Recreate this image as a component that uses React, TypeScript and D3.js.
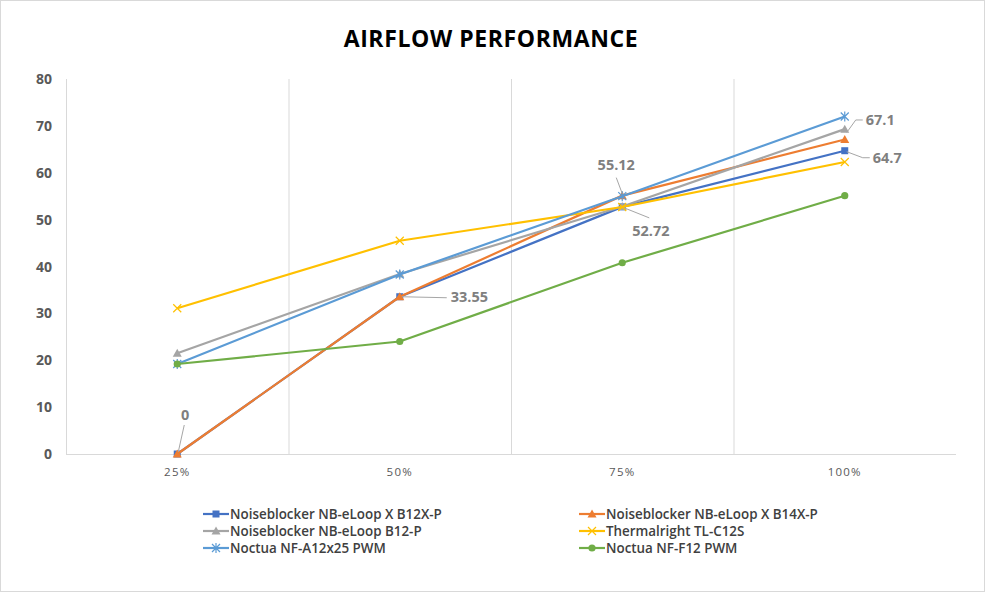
import React from "react";
import * as d3 from "d3";

const categories = ["25%", "50%", "75%", "100%"];
const seriesNames = [
  "Noiseblocker NB-eLoop X B12X-P",
  "Noiseblocker NB-eLoop X B14X-P",
  "Noiseblocker NB-eLoop B12-P",
  "Thermalright TL-C12S",
  "Noctua NF-A12x25 PWM",
  "Noctua NF-F12 PWM",
];
const b12xp = [0, 33.55, 52.72, 64.7];
const b14xp = [0, 33.55, 55.12, 67.1];
const b12p = [21.5, 38.4, 52.8, 69.3];
const tlc12s = [31.1, 45.5, 52.7, 62.3];
const a12x25 = [19.2, 38.3, 55.0, 72.0];
const f12 = [19.2, 24.0, 40.8, 55.1];
const seriesValues = [b12xp, b14xp, b12p, tlc12s, a12x25, f12];
const colors = ["#4472C4", "#ED7D31", "#A5A5A5", "#FFC000", "#5B9BD5", "#70AD47"];
const markers = ["square", "triangle", "triangle", "x", "star", "circle"];
const yTicks = [0, 10, 20, 30, 40, 50, 60, 70, 80];

// data labels: [series index, category index, text]
const dataLabels: [number, number, string][] = [
  [0, 0, "0"],
  [0, 1, "33.55"],
  [1, 2, "55.12"],
  [0, 2, "52.72"],
  [1, 3, "67.1"],
  [0, 3, "64.7"],
];

const W = 985;
const H = 592;
const left = 66;
const right = 956;
const top = 79;
const bottom = 454;

function Marker({ type, color, x, y }: { type: string; color: string; x: number; y: number }) {
  if (type === "square") return <rect x={x - 3.5} y={y - 3.5} width={7} height={7} fill={color} />;
  if (type === "triangle")
    return <path d={`M${x},${y - 4.5}L${x + 4.5},${y + 3.5}L${x - 4.5},${y + 3.5}Z`} fill={color} />;
  if (type === "circle") return <circle cx={x} cy={y} r={3.6} fill={color} />;
  if (type === "x")
    return (
      <path d={`M${x - 4},${y - 4}L${x + 4},${y + 4}M${x - 4},${y + 4}L${x + 4},${y - 4}`} stroke={color} strokeWidth={1.2} fill="none" />
    );
  return (
    <path
      d={`M${x - 4},${y - 4}L${x + 4},${y + 4}M${x - 4},${y + 4}L${x + 4},${y - 4}M${x},${y - 5}L${x},${y + 5}`}
      stroke={color}
      strokeWidth={1.2}
      fill="none"
    />
  );
}

export default function App() {
  const x = d3.scaleBand<string>().domain(categories).range([left, right]);
  const y = d3.scaleLinear().domain([0, 80]).range([bottom, top]);
  const cx = (c: string) => (x(c) as number) + x.bandwidth() / 2;
  const line = d3
    .line<number>()
    .x((_, i) => cx(categories[i]))
    .y((d) => y(d));

  const lp = (si: number, ci: number) => [cx(categories[ci]), y(seriesValues[si][ci])];
  const labelPos: Record<string, { tx: number; ty: number; anchor: string; leader: [number, number][] }> = {};
  {
    const [px, py] = lp(0, 0);
    labelPos["0"] = { tx: px + 8, ty: py - 34, anchor: "middle", leader: [[px + 1, py - 2], [px + 7, py - 29]] };
  }
  {
    const [px, py] = lp(0, 1);
    labelPos["33.55"] = { tx: px + 51, ty: py + 5.5, anchor: "start", leader: [[px + 2, py], [px + 47, py + 1]] };
  }
  {
    const [px, py] = lp(1, 2);
    labelPos["55.12"] = { tx: px - 6, ty: py - 26, anchor: "middle", leader: [[px, py - 2], [px - 6, py - 18]] };
  }
  {
    const [px, py] = lp(0, 2);
    labelPos["52.72"] = { tx: px + 10, ty: py + 29, anchor: "start", leader: [[px + 2, py + 1], [px + 27, py + 11]] };
  }
  {
    const [px, py] = lp(1, 3);
    labelPos["67.1"] = { tx: px + 21, ty: py - 14.5, anchor: "start", leader: [[px + 2, py - 7], [px + 11, py - 19.5], [px + 18, py - 19.5]] };
  }
  {
    const [px, py] = lp(0, 3);
    labelPos["64.7"] = { tx: px + 28, ty: py + 12, anchor: "start", leader: [[px + 2, py + 1], [px + 18, py + 7], [px + 25, py + 7]] };
  }

  const legendCols = [203, 579];
  const legendRows = [514, 531, 548];

  return (
    <svg
      width={W}
      height={H}
      style={{ position: "absolute", left: 0, top: 0, background: "#fff" }}
      fontFamily="'Open Sans', 'Noto Sans', sans-serif"
    >
      <rect x={0.5} y={0.5} width={W - 1} height={H - 1} fill="#fff" stroke="#d9d9d9" />
      <text x={491} y={47} textAnchor="middle" fontSize={23} fontWeight={700} letterSpacing={0.6} fill="#000">
        AIRFLOW PERFORMANCE
      </text>
      {categories.slice(1).map((c) => (
        <line key={c} x1={(x(c) as number) + 0.5} x2={(x(c) as number) + 0.5} y1={top} y2={bottom} stroke="#d9d9d9" />
      ))}
      <line x1={left + 0.5} x2={left + 0.5} y1={top} y2={bottom} stroke="#d9d9d9" />
      <line x1={left} x2={right} y1={bottom + 0.5} y2={bottom + 0.5} stroke="#d9d9d9" />
      {yTicks.map((t) => (
        <text key={t} x={52} y={y(t) + 5} textAnchor="end" fontSize={14} fontWeight={700} fill="#595959">
          {t}
        </text>
      ))}
      {categories.map((c) => (
        <text key={c} x={cx(c)} y={476} textAnchor="middle" fontSize={11.5} letterSpacing={1.2} fill="#595959">
          {c}
        </text>
      ))}
      {seriesValues.map((vals, si) => (
        <g key={si}>
          <path d={line(vals) as string} fill="none" stroke={colors[si]} strokeWidth={2.2} strokeLinejoin="round" />
          {vals.map((v, ci) => (
            <Marker key={ci} type={markers[si]} color={colors[si]} x={cx(categories[ci])} y={y(v)} />
          ))}
        </g>
      ))}
      {dataLabels.map(([si, ci, txt]) => {
        const p = labelPos[txt];
        return (
          <g key={txt}>
            <polyline points={p.leader.map((q) => q.join(",")).join(" ")} fill="none" stroke="#a6a6a6" strokeWidth={1} />
            <text x={p.tx} y={p.ty} textAnchor={p.anchor as any} fontSize={14.5} fontWeight={700} fill="#7f7f7f">
              {txt}
            </text>
          </g>
        );
      })}
      {seriesNames.map((name, i) => {
        const lx = legendCols[i % 2];
        const ly = legendRows[Math.floor(i / 2)];
        return (
          <g key={name}>
            <line x1={lx} x2={lx + 26} y1={ly} y2={ly} stroke={colors[i]} strokeWidth={2.2} />
            <Marker type={markers[i]} color={colors[i]} x={lx + 13} y={ly} />
            <text x={lx + 27} y={ly + 4.8} fontSize={13.4} fontWeight={600} fill="#404040">
              {name}
            </text>
          </g>
        );
      })}
    </svg>
  );
}
